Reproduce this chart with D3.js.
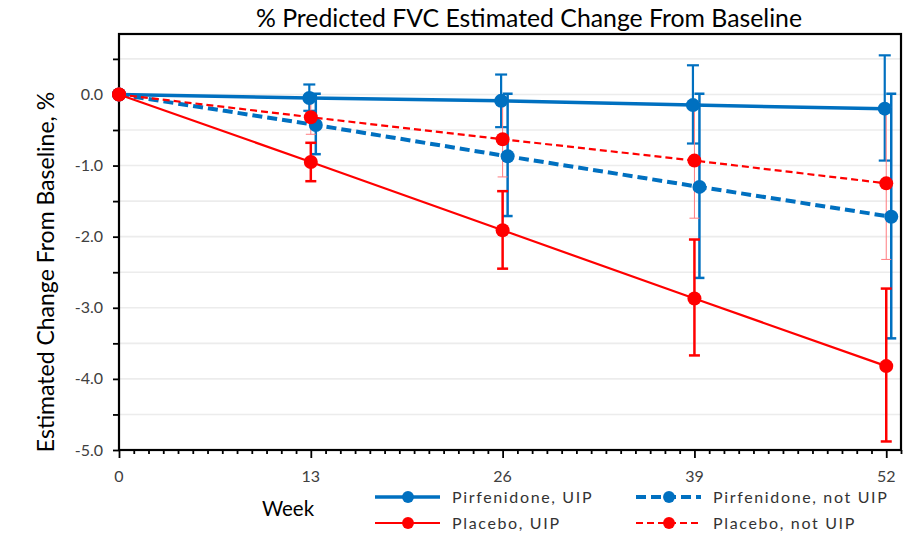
<!DOCTYPE html>
<html>
<head>
<meta charset="utf-8">
<script src="https://cdn.jsdelivr.net/npm/d3@7"></script>
<style>
  html, body { margin: 0; padding: 0; background: #fff; }
  svg { display: block; font-family: Lato, "Open Sans", sans-serif; }
</style>
</head>
<body>
<svg id="chart" width="920" height="535"></svg>
<script>
// ---- data ----
const weeks = [0, 13, 26, 39, 52];
const xTickLabels = ["0", "13", "26", "39", "52"];
const yTickLabels = ["0.0", "-1.0", "-2.0", "-3.0", "-4.0", "-5.0"];

const pirfUIP      = [0, -0.05, -0.09, -0.15, -0.20];
const pirfUIPLow   = [0, -0.23, -0.46, -0.69, -0.93];
const pirfUIPHigh  = [0,  0.14,  0.28,  0.41,  0.55];

const pirfNot      = [0, -0.43, -0.87, -1.30, -1.72];
const pirfNotLow   = [0, -0.84, -1.71, -2.58, -3.43];
const pirfNotHigh  = [0,  0.01,  0.01,  0.01,  0.01];

const placUIP      = [0, -0.95, -1.91, -2.87, -3.82];
const placUIPLow   = [0, -1.22, -2.45, -3.67, -4.88];
const placUIPHigh  = [0, -0.68, -1.36, -2.04, -2.73];

const placNot      = [0, -0.32, -0.63, -0.93, -1.25];
const placNotLow   = [0, -0.56, -1.16, -1.74, -2.32];
const placNotHigh  = [0, -0.08, -0.10, -0.12, -0.18];

const seriesNames = ["Pirfenidone, UIP", "Pirfenidone, not UIP", "Placebo, UIP", "Placebo, not UIP"];

// ---- styles ----
const BLUE = "#0070C0", RED = "#FF0000";
const sPirfNot = { name: seriesNames[1], v: pirfNot, lo: pirfNotLow, hi: pirfNotHigh, color: BLUE, lw: 4, dash: "10,5", ebColor: BLUE, ebw: 2.5, cap: 10, dx: 5, r: 7 };
const sPirfUIP = { name: seriesNames[0], v: pirfUIP, lo: pirfUIPLow, hi: pirfUIPHigh, color: BLUE, lw: 3.5, dash: null, ebColor: BLUE, ebw: 2.2, cap: 12, dx: -1.5, r: 7 };
const sPlacNot = { name: seriesNames[3], v: placNot, lo: placNotLow, hi: placNotHigh, color: RED, lw: 2.2, dash: "7,4", ebColor: "#FF7C80", ebw: 1, cap: 10, dx: 0, r: 7 };
const sPlacUIP = { name: seriesNames[2], v: placUIP, lo: placUIPLow, hi: placUIPHigh, color: RED, lw: 2.2, dash: null, ebColor: RED, ebw: 2.5, cap: 11, dx: 0, r: 7 };
const series = [sPirfNot, sPirfUIP, sPlacNot, sPlacUIP]; // drawing order

const svg = d3.select("#chart");
const L = 119, R = 901, T = 34, B = 450;
const x = d3.scaleLinear().domain([0, 53]).range([L, R]);
const y = d3.scaleLinear().domain([-5, 0.85]).range([B, T]);

// gridlines
const gridVals = d3.range(-4.5, 0.51, 0.5);
svg.append("g").selectAll("line").data(gridVals).join("line")
  .attr("x1", L).attr("x2", R)
  .attr("y1", d => y(d)).attr("y2", d => y(d))
  .attr("stroke", "#ececec").attr("stroke-width", 1.6);

// title
svg.append("text").attr("x", 529).attr("y", 27).attr("text-anchor", "middle")
  .attr("font-size", 24.8).attr("fill", "#000")
  .text("% Predicted FVC Estimated Change From Baseline");

// y axis
const yAxis = d3.axisLeft(y).tickValues(d3.range(-5, 0.51, 0.5)).tickSize(6).tickFormat("");
const gy = svg.append("g").attr("transform", `translate(${L},0)`).call(yAxis);
gy.select(".domain").remove();
gy.selectAll(".tick line").attr("stroke", "#000").attr("stroke-width", 1.8);
const yLabelVals = [0, -1, -2, -3, -4, -5];
svg.append("g").selectAll("text").data(yLabelVals).join("text")
  .attr("x", 103).attr("y", d => y(d) + 5.5).attr("text-anchor", "end")
  .attr("font-size", 16).attr("fill", "#404040")
  .text((d, i) => yTickLabels[i]);

// x axis
const xMinor = d3.range(0, 54, 1);
const gx = svg.append("g").attr("transform", `translate(0,${B})`)
  .call(d3.axisBottom(x).tickValues(xMinor).tickSize(4).tickFormat(""));
gx.select(".domain").remove();
gx.selectAll(".tick line").attr("stroke", "#000").attr("stroke-width", 1.8)
  .attr("y2", d => weeks.includes(d) ? 8 : 4);
svg.append("g").selectAll("text").data(weeks).join("text")
  .attr("x", d => x(d)).attr("y", 482).attr("text-anchor", "middle")
  .attr("font-size", 16).attr("fill", "#404040")
  .text((d, i) => xTickLabels[i]);

// plot border
svg.append("rect").attr("x", L).attr("y", T).attr("width", R - L).attr("height", B - T)
  .attr("fill", "none").attr("stroke", "#000").attr("stroke-width", 2.2);

// axis titles
svg.append("text").attr("transform", `translate(54,272) rotate(-90)`)
  .attr("text-anchor", "middle").attr("font-size", 23).attr("fill", "#000")
  .text("Estimated Change From Baseline, %");
svg.append("text").attr("x", 288).attr("y", 516).attr("text-anchor", "middle")
  .attr("font-size", 20.5).attr("fill", "#000").text("Week");

const px = (s, i) => x(weeks[i]) + (weeks[i] > 0 ? s.dx : 0);

// error bars
const eg = svg.append("g");
series.forEach(s => {
  weeks.forEach((w, i) => {
    if (w === 0) return;
    const cx = px(s, i);
    const g = eg.append("g").attr("stroke", s.ebColor).attr("stroke-width", s.ebw);
    g.append("line").attr("x1", cx).attr("x2", cx).attr("y1", y(s.hi[i])).attr("y2", y(s.lo[i]));
    g.append("line").attr("x1", cx - s.cap / 2).attr("x2", cx + s.cap / 2).attr("y1", y(s.hi[i])).attr("y2", y(s.hi[i]));
    g.append("line").attr("x1", cx - s.cap / 2).attr("x2", cx + s.cap / 2).attr("y1", y(s.lo[i])).attr("y2", y(s.lo[i]));
  });
});

// lines and markers
series.forEach(s => {
  const line = d3.line().x((d, i) => px(s, i)).y(d => y(d));
  svg.append("path").datum(s.v).attr("d", line)
    .attr("fill", "none").attr("stroke", s.color).attr("stroke-width", s.lw)
    .attr("stroke-dasharray", s.dash);
  svg.append("g").selectAll("circle").data(s.v).join("circle")
    .attr("cx", (d, i) => px(s, i)).attr("cy", d => y(d)).attr("r", s.r)
    .attr("fill", s.color);
});

// legend
const legendItems = [
  { s: sPirfUIP, lx: 375, ly: 497 },
  { s: sPirfNot, lx: 636, ly: 497 },
  { s: sPlacUIP, lx: 375, ly: 523 },
  { s: sPlacNot, lx: 636, ly: 523 }
];
const lg = svg.append("g");
legendItems.forEach(it => {
  const s = it.s;
  lg.append("line").attr("x1", it.lx).attr("x2", it.lx + 65).attr("y1", it.ly).attr("y2", it.ly)
    .attr("stroke", s.color).attr("stroke-width", s.lw).attr("stroke-dasharray", s.dash);
  lg.append("circle").attr("cx", it.lx + 33).attr("cy", it.ly).attr("r", s.r * 0.85).attr("fill", s.color);
  lg.append("text").attr("x", it.lx + 77).attr("y", it.ly + 5.5)
    .attr("font-size", 16).attr("letter-spacing", 1.65).attr("fill", "#333").text(s.name);
});
</script>
</body>
</html>
